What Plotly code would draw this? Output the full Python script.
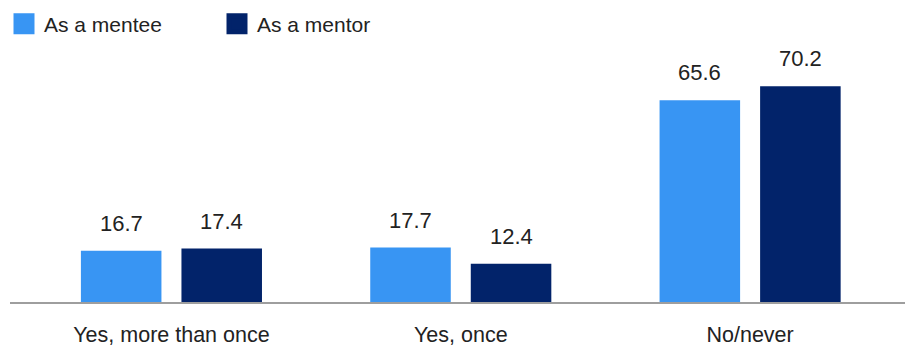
import plotly.graph_objects as go

categories = ["Yes, more than once", "Yes, once", "No/never"]
mentee = [16.7, 17.7, 65.6]
mentor = [17.4, 12.4, 70.2]
series_names = ["As a mentee", "As a mentor"]
colors = ["#3895f3", "#02236a"]
text_color = "#222222"
font_family = "Liberation Sans, Arial, sans-serif"

W, H = 905, 346
ML, MR, MT, MB = 2, 0, 48, 52
PW, PH = W - ML - MR, H - MT - MB

fig = go.Figure()
for name, vals, col in zip(series_names, [mentee, mentor], colors):
    fig.add_trace(go.Bar(x=categories, y=vals, name=name, marker=dict(color=col, line=dict(width=0)),
                         showlegend=False, legendgroup=name, hoverinfo="x+y"))
    fig.add_trace(go.Scatter(x=[None], y=[None], mode="markers", name=name, legendgroup=name,
                             marker=dict(symbol="square", size=16, color=col, line=dict(color=col, width=5))))

# value labels above bars
slot_offset = 0.1737
for i, cat in enumerate(categories):
    for j, vals in enumerate([mentee, mentor]):
        fig.add_annotation(x=i + (-slot_offset if j == 0 else slot_offset), y=vals[i], xref="x", yref="y",
                           text=f"{vals[i]:.1f}", showarrow=False, yanchor="bottom", yshift=13,
                           font=dict(size=22, color=text_color, family=font_family))

fig.update_layout(
    width=W, height=H,
    margin=dict(l=ML, r=MR, t=MT, b=MB, autoexpand=False),
    barmode="group", bargap=0.305, bargroupgap=0.199,
    plot_bgcolor="white", paper_bgcolor="white",
    font=dict(family=font_family, color=text_color, size=21),
    legend=dict(orientation="h", xref="paper", yref="paper",
                x=(-4 - ML) / PW, y=1 + (MT + 4.3) / PH,
                xanchor="left", yanchor="top",
                entrywidth=168, entrywidthmode="pixels", font=dict(size=21, color=text_color),
                bgcolor="rgba(0,0,0,0)"),
    xaxis=dict(range=[-0.558, 2.563], showline=True, linecolor="#9e9e9e", linewidth=2,
               showgrid=False, zeroline=False, ticks="", ticklabelstandoff=12,
               tickfont=dict(size=21.5, color=text_color)),
    yaxis=dict(range=[0, 80], visible=False, showgrid=False, zeroline=False),
)

fig.write_html("out.html")
